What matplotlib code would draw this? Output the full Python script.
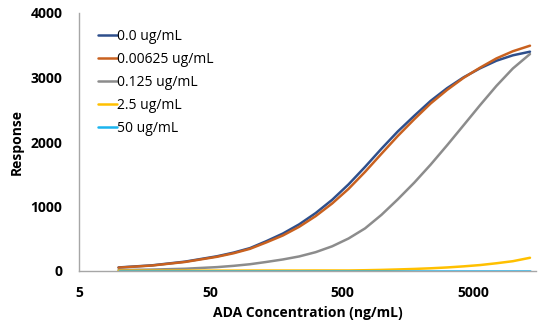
import matplotlib
matplotlib.use("Agg")
import matplotlib.pyplot as plt

plt.rcParams["font.family"] = ["Open Sans", "DejaVu Sans"]

# ADA concentration (ng/mL) at which each response was measured
conc = [10, 18, 32, 56, 75, 100, 133, 178, 237, 316, 422, 562, 750, 1000,
        1330, 1778, 2370, 3162, 4220, 5623, 7500, 10000, 13500]

# Response for each drug level
resp_0 = [55, 88, 145, 228, 285, 355, 462, 581, 724, 898, 1104, 1343, 1613, 1895,
          2162, 2406, 2638, 2835, 3003, 3142, 3260, 3344, 3400]
resp_000625 = [52, 85, 140, 220, 275, 344, 443, 551, 686, 851, 1047, 1273, 1536, 1817,
               2092, 2353, 2598, 2808, 2995, 3152, 3296, 3407, 3493]
resp_0125 = [15, 22, 35, 60, 80, 105, 140, 179, 226, 292, 383, 504, 660, 870,
             1110, 1370, 1650, 1950, 2260, 2570, 2870, 3140, 3364]
resp_25 = [5, 5, 6, 6, 6, 7, 7, 7, 7, 8, 8, 8, 12, 17,
           24, 32, 42, 55, 72, 92, 120, 152, 205]
resp_50 = [2, 2, 2, 2, 2, 2, 2, 2, 2, 2, 2, 2, 2, 2,
           2, 2, 2, 2, 2, 2, 2, 2, 2]

series = [
    ("0.0 ug/mL", resp_0, "#2E4F8C"),
    ("0.00625 ug/mL", resp_000625, "#C9611F"),
    ("0.125 ug/mL", resp_0125, "#8C8C8C"),
    ("2.5 ug/mL", resp_25, "#FFC000"),
    ("50 ug/mL", resp_50, "#1BB4EE"),
]

x_ticks = [5, 50, 500, 5000]
y_ticks = [0, 1000, 2000, 3000, 4000]

fig = plt.figure(figsize=(5.46, 3.23), dpi=100)
ax = fig.add_axes([79 / 546, 52 / 323, (536 - 79) / 546, (271 - 13) / 323])

for label, vals, color in series:
    ax.plot(conc, vals, color=color, lw=1.8, label=label,
            solid_capstyle="round", solid_joinstyle="round")

ax.set_xscale("log")
ax.set_xlim(5, 15000)
ax.set_ylim(0, 4000)
ax.set_xticks(x_ticks)
ax.set_xticklabels([str(t) for t in x_ticks])
ax.minorticks_off()
ax.set_yticks(y_ticks)
ax.set_yticklabels([str(t) for t in y_ticks])
ax.tick_params(axis="x", length=0, labelsize=10, pad=11)
ax.tick_params(axis="y", length=0, labelsize=10, pad=12)
for lbl in ax.get_xticklabels() + ax.get_yticklabels():
    lbl.set_fontweight("bold")

for side in ("top", "right"):
    ax.spines[side].set_visible(False)
for side in ("left", "bottom"):
    ax.spines[side].set_color("#A6A6A6")
    ax.spines[side].set_linewidth(1.0)

ax.set_xlabel("ADA Concentration (ng/mL)", fontsize=10, fontweight="bold", labelpad=4)
ax.set_ylabel("Response", fontsize=10, fontweight="bold", labelpad=5)

leg = ax.legend(loc="upper left", bbox_to_anchor=(98 / 546, 1 - 29 / 323),
                bbox_transform=fig.transFigure, frameon=False, fontsize=10,
                handlelength=1.35, handletextpad=0.0, labelspacing=0.58,
                borderaxespad=0, borderpad=0)

fig.savefig("out.png", dpi=100)
